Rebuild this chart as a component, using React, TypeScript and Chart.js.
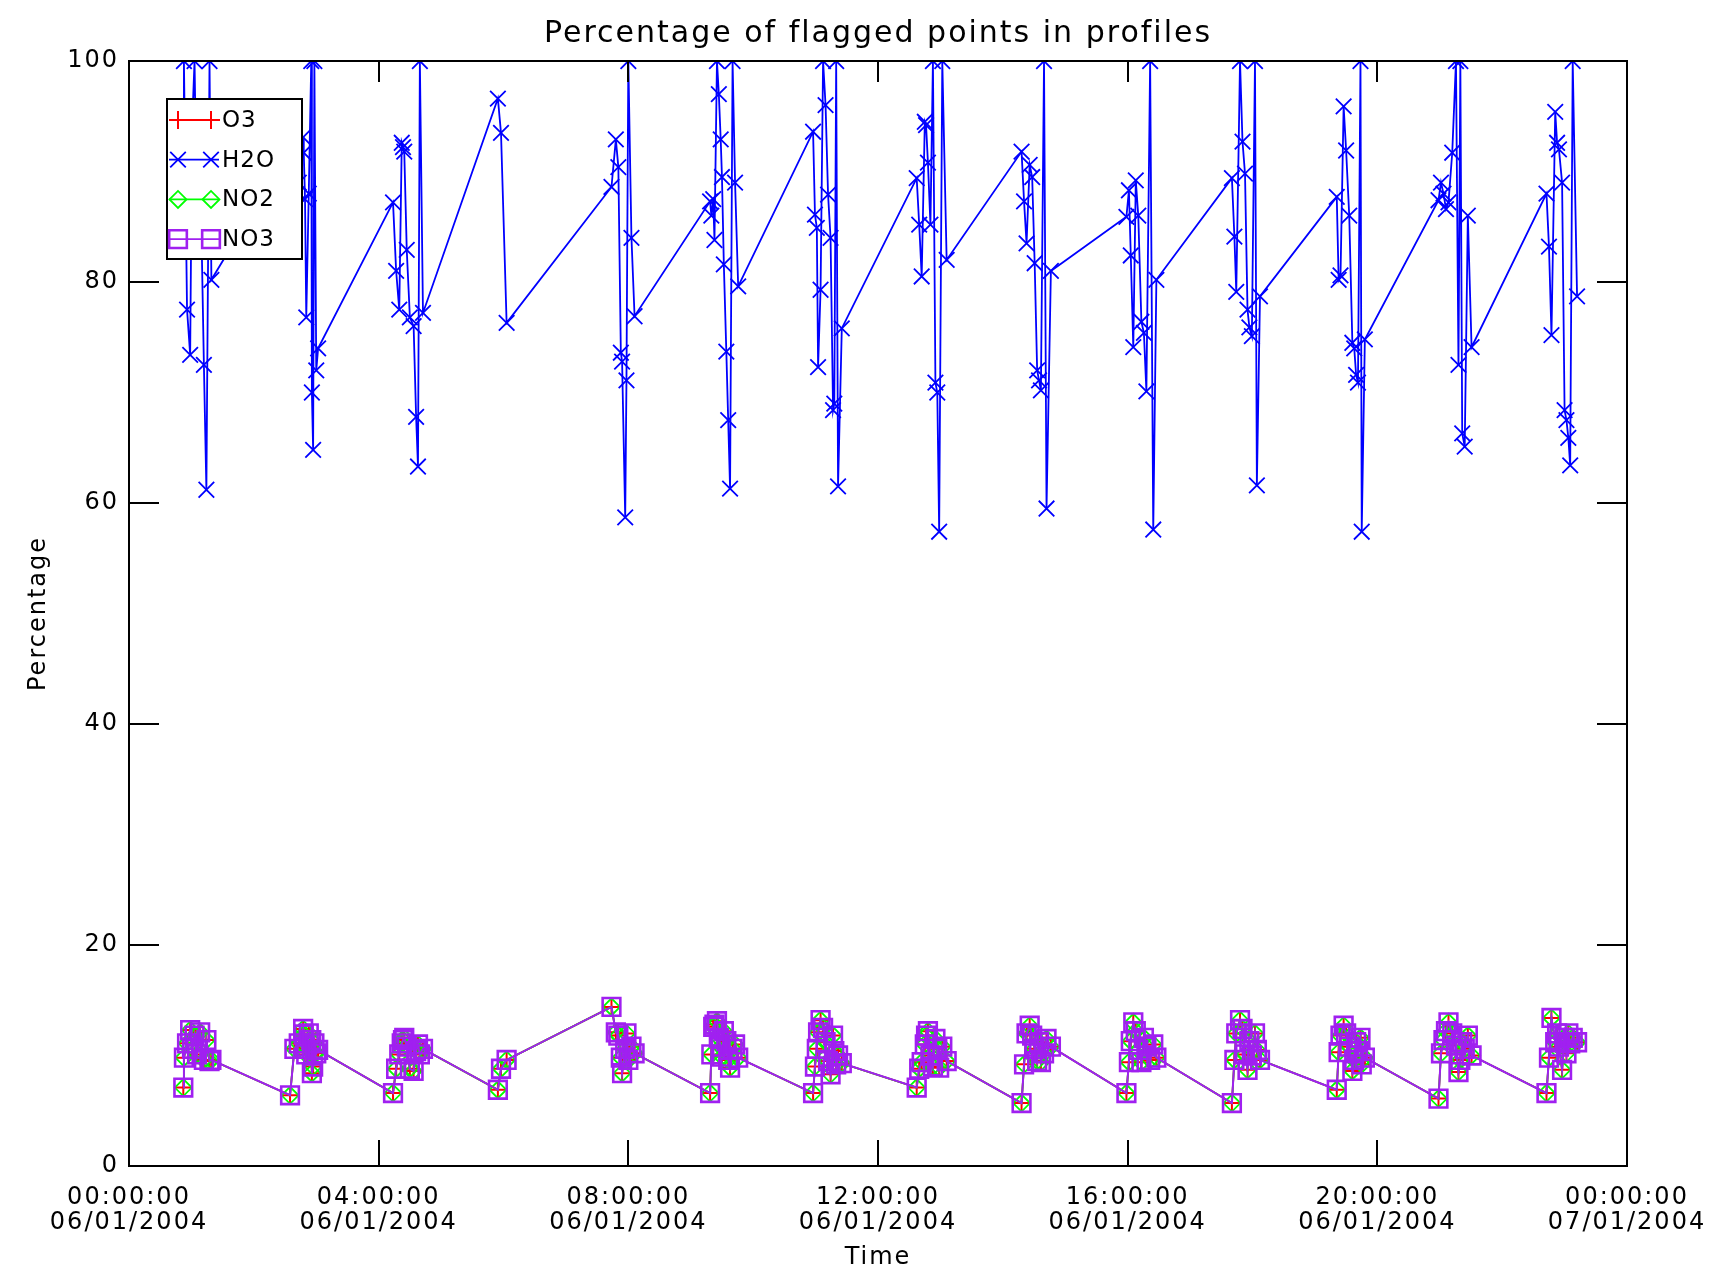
import { useEffect, useRef } from 'react';
import { Chart, registerables } from 'chart.js';

Chart.register(...registerables);

// Hours after 00:00:00 06/01/2004 of each profile
const profileTimes = [
  0.87, 0.88, 0.93, 0.98, 1.01, 1.05, 1.09, 1.14, 1.2, 1.24, 1.29, 1.32,
  2.58, 2.65, 2.72, 2.79, 2.8, 2.82, 2.84, 2.88, 2.92, 2.93, 2.95, 2.97, 3.0, 3.03,
  4.23, 4.28, 4.33, 4.37, 4.39, 4.41, 4.45, 4.5, 4.56, 4.6, 4.63, 4.66, 4.71,
  5.91, 5.96, 6.05,
  7.73, 7.8, 7.84, 7.88, 7.9, 7.95, 7.97, 8.0, 8.05, 8.1,
  9.31, 9.33, 9.36, 9.38, 9.42, 9.45, 9.48, 9.5, 9.53, 9.57, 9.6, 9.63, 9.67, 9.71, 9.76,
  10.96, 10.99, 11.02, 11.04, 11.08, 11.12, 11.16, 11.2, 11.24, 11.28, 11.3, 11.33, 11.36, 11.42,
  12.62, 12.66, 12.7, 12.75, 12.77, 12.8, 12.84, 12.88, 12.92, 12.95, 12.98, 13.03, 13.1,
  14.3, 14.34, 14.38, 14.43, 14.47, 14.51, 14.55, 14.58, 14.61, 14.66, 14.7, 14.77,
  15.98, 16.02, 16.05, 16.09, 16.13, 16.17, 16.22, 16.26, 16.3, 16.36, 16.41, 16.46,
  17.67, 17.71, 17.74, 17.8, 17.84, 17.88, 17.92, 17.95, 17.99, 18.04, 18.07, 18.12,
  19.35, 19.38, 19.41, 19.46, 19.5, 19.55, 19.6, 19.63, 19.66, 19.69, 19.73, 19.75, 19.8,
  20.98, 21.02, 21.06, 21.1, 21.14, 21.2, 21.26, 21.3, 21.33, 21.36, 21.4, 21.45, 21.51,
  22.71, 22.75, 22.79, 22.85, 22.88, 22.91, 22.96, 23.0, 23.03, 23.06, 23.09, 23.13, 23.2,
];

const h2oValues = [
  89, 100, 77.5, 73.4, 94, 100, 85, 91, 72.5, 61.2, 100, 80.2,
  92, 95, 89, 93.1, 91.7, 87.5, 76.8, 88, 100, 70, 64.8, 100, 72, 74,
  87.2, 81, 77.5, 92.6, 92.2, 91.8, 82.9, 76.8, 76, 67.8, 63.3, 100, 77.2,
  96.6, 93.5, 76.3,
  88.6, 92.9, 90.4, 73.6, 72.8, 58.7, 71.1, 100, 84, 76.9,
  87.3, 86, 87.5, 83.8, 100, 97, 92.9, 89.5, 81.6, 73.7, 67.5, 61.3, 100, 89, 79.6,
  93.6, 86.1, 84.9, 72.3, 79.3, 100, 96, 87.9, 84, 68.4, 69, 100, 61.5, 75.8,
  89.4, 85.2, 80.5, 94.5, 94.2, 90.8, 85.2, 100, 70.9, 70, 57.4, 100, 82,
  91.8, 87.3, 83.5, 90.6, 89.5, 81.7, 72, 71.1, 70.2, 100, 59.5, 81,
  85.9, 88.3, 82.4, 74.1, 89.2, 86, 76.4, 75.4, 70.1, 100, 57.6, 80.2,
  89.4, 84.1, 79.1, 100, 92.7, 89.8, 77.5, 75.9, 75.1, 100, 61.6, 78.7,
  87.7, 80.2, 80.6, 95.9, 91.9, 86, 74.5, 74, 71.6, 70.9, 100, 57.4, 74.8,
  87.4, 89, 88, 86.6, 87.2, 91.7, 100, 72.5, 100, 66.3, 65.1, 86, 74.1,
  88, 83.2, 75.2, 95.4, 92.6, 92, 89, 68.4, 67.5, 65.9, 63.4, 100, 78.7,
];

// O3, NO2 and NO3 share the same flagged percentages (their markers overlap)
const o3Values = [
  7.1, 9.8, 11.1, 12.3, 10.6, 11.8, 10.1, 12.1, 9.6, 11.4, 9.5, 9.6,
  6.4, 10.6, 11.1, 12.4, 11.9, 10.8, 10.1, 12.0, 11.4, 8.4, 9.0, 11.1, 10.2, 10.5,
  6.6, 8.8, 10.1, 11.1, 11.4, 11.6, 10.8, 8.8, 8.6, 10.4, 11.0, 10.1, 10.6,
  6.9, 8.8, 9.6,
  14.4, 12.1, 11.8, 9.8, 8.4, 10.6, 12.0, 9.6, 10.8, 10.2,
  6.6, 10.1, 12.6, 12.8, 13.1, 11.6, 10.8, 9.9, 12.2, 11.3, 9.6, 8.9, 10.6, 11.0, 9.8,
  6.6, 9.0, 10.6, 12.1, 13.2, 12.5, 11.2, 9.5, 8.3, 11.8, 10.4, 9.2, 10.0, 9.3,
  7.1, 8.8, 9.4, 11.0, 11.8, 12.2, 10.0, 9.0, 11.5, 10.6, 8.9, 10.8, 9.5,
  5.7, 9.2, 12.0, 12.7, 11.8, 10.6, 9.5, 11.2, 9.4, 10.2, 11.5, 10.8,
  6.6, 9.4, 11.3, 13.0, 12.2, 10.5, 9.4, 11.6, 10.8, 9.6, 11.0, 9.8,
  5.7, 9.6, 12.0, 13.2, 12.4, 10.1, 8.7, 11.3, 10.0, 12.0, 10.5, 9.6,
  6.9, 10.3, 11.8, 12.7, 12.0, 10.8, 8.6, 9.6, 11.2, 10.4, 11.6, 9.2, 9.8,
  6.1, 10.2, 11.4, 12.2, 13.0, 12.0, 10.9, 8.5, 9.6, 11.2, 10.6, 11.8, 10.0,
  6.6, 9.8, 13.4, 11.2, 12.0, 10.8, 8.7, 11.6, 10.2, 12.0, 11.1, 11.6, 11.2,
];
const no2Values = o3Values.slice();
const no3Values = o3Values.slice();

const seriesNames = ['O3', 'H2O', 'NO2', 'NO3'];
const xTickTimes = ['00:00:00', '04:00:00', '08:00:00', '12:00:00', '16:00:00', '20:00:00', '00:00:00'];
const xTickDates = ['06/01/2004', '06/01/2004', '06/01/2004', '06/01/2004', '06/01/2004', '06/01/2004', '07/01/2004'];
const chartTitle = 'Percentage of flagged points in profiles';
const xAxisTitle = 'Time';
const yAxisTitle = 'Percentage';

const FONT = '"DejaVu Sans", sans-serif';

function drawMark(ctx: CanvasRenderingContext2D, style: string, x: number, y: number, r: number) {
  ctx.beginPath();
  if (style === 'cross') {
    ctx.moveTo(x, y - r); ctx.lineTo(x, y + r);
    ctx.moveTo(x - r, y); ctx.lineTo(x + r, y);
  } else if (style === 'crossRot') {
    const d = r * Math.SQRT1_2;
    ctx.moveTo(x - d, y - d); ctx.lineTo(x + d, y + d);
    ctx.moveTo(x - d, y + d); ctx.lineTo(x + d, y - d);
  } else if (style === 'rectRot') {
    ctx.moveTo(x - r, y); ctx.lineTo(x, y - r); ctx.lineTo(x + r, y); ctx.lineTo(x, y + r); ctx.closePath();
  } else {
    const s = r * Math.SQRT1_2;
    ctx.rect(x - s, y - s, 2 * s, 2 * s);
  }
  ctx.stroke();
}

const idlFrame = {
  id: 'idlFrame',
  beforeDraw(chart: any) {
    chart.ctx.letterSpacing = '2px';
  },
  afterDatasetsDraw(chart: any) {
    const { ctx, chartArea: a, scales } = chart;
    const xs = scales.x;
    const ys = scales.y;
    ctx.save();
    ctx.letterSpacing = '0px';
    ctx.strokeStyle = '#000';
    ctx.lineWidth = 2;
    ctx.strokeRect(a.left, a.top, a.right - a.left, a.bottom - a.top);
    ctx.beginPath();
    xs.ticks.forEach((t: any) => {
      const px = Math.round(xs.getPixelForValue(t.value));
      ctx.moveTo(px, a.bottom); ctx.lineTo(px, a.bottom - 26);
      ctx.moveTo(px, a.top); ctx.lineTo(px, a.top + 21);
    });
    ys.ticks.forEach((t: any) => {
      const py = Math.round(ys.getPixelForValue(t.value));
      ctx.moveTo(a.left, py); ctx.lineTo(a.left + 30, py);
      ctx.moveTo(a.right, py); ctx.lineTo(a.right - 30, py);
    });
    ctx.stroke();

    // title
    ctx.fillStyle = '#000';
    ctx.font = `30px ${FONT}`;
    ctx.letterSpacing = '2px';
    ctx.textAlign = 'center';
    ctx.textBaseline = 'middle';
    ctx.fillText(chartTitle, (a.left + a.right) / 2, 34);

    // legend inside the plot
    const bx = a.left + 38, by = a.top + 38, bw = 135, bh = 160;
    ctx.fillStyle = '#fff';
    ctx.fillRect(bx, by, bw, bh);
    ctx.lineWidth = 2;
    ctx.strokeStyle = '#000';
    ctx.strokeRect(bx, by, bw, bh);
    ctx.font = `23px ${FONT}`;
    ctx.letterSpacing = '1px';
    ctx.textAlign = 'left';
    chart.data.datasets.forEach((ds: any, i: number) => {
      const ry = by + 21 + i * 39.7;
      ctx.strokeStyle = ds.borderColor;
      ctx.lineWidth = 1.8;
      ctx.beginPath();
      ctx.moveTo(bx + 2, ry); ctx.lineTo(bx + 52, ry);
      ctx.stroke();
      ctx.lineWidth = ds.pointBorderWidth;
      drawMark(ctx, ds.pointStyle, bx + 11, ry, ds.pointRadius);
      drawMark(ctx, ds.pointStyle, bx + 44, ry, ds.pointRadius);
      ctx.fillStyle = '#000';
      ctx.fillText(ds.label, bx + 55, ry + 1);
    });
    ctx.restore();
  },
};

export default function App() {
  const ref = useRef<HTMLCanvasElement>(null);
  useEffect(() => {
    const canvas = ref.current;
    if (!canvas) return;
    const toPoints = (vals: number[]) => profileTimes.map((t, i) => ({ x: t, y: vals[i] }));
    const mk = (label: string, vals: number[], color: string, style: string, radius: number, order: number, lw: number, pw: number) => ({
      label,
      data: toPoints(vals),
      borderColor: color,
      backgroundColor: color,
      borderWidth: lw,
      pointStyle: style,
      pointRadius: radius,
      pointBorderColor: color,
      pointBackgroundColor: 'rgba(0,0,0,0)',
      pointBorderWidth: pw,
      tension: 0,
      order,
    });
    const chart = new Chart(canvas, {
      type: 'line',
      data: {
        datasets: [
          mk(seriesNames[0], o3Values, '#ff0000', 'cross', 9, 3, 1.8, 2),
          mk(seriesNames[1], h2oValues, '#0000ff', 'crossRot', 11, 0, 1.8, 1.8),
          mk(seriesNames[2], no2Values, '#00ff00', 'rectRot', 8.5, 2, 1.8, 1.8),
          mk(seriesNames[3], no3Values, '#a020f0', 'rect', 12.5, 1, 2, 2.6),
        ] as any,
      },
      options: {
        animation: false,
        responsive: false,
        devicePixelRatio: 1,
        events: [],
        layout: { padding: { top: 61, right: 104, bottom: 0, left: 0 } },
        plugins: {
          legend: { display: false },
          title: { display: false },
          tooltip: { enabled: false },
        },
        scales: {
          x: {
            type: 'linear',
            min: 0,
            max: 24,
            grid: { display: false, drawTicks: false },
            border: { display: false },
            ticks: {
              stepSize: 4,
              autoSkip: false,
              maxRotation: 0,
              padding: 19,
              color: '#000',
              font: { family: FONT, size: 24, lineHeight: 1.04 },
              callback: (_v: any, i: number) => [xTickTimes[i], xTickDates[i]],
            },
            title: {
              display: true,
              text: xAxisTitle,
              color: '#000',
              font: { family: FONT, size: 24 },
              padding: { top: 0, bottom: 9 },
            },
            afterFit: (s: any) => { s.height = 115; },
          },
          y: {
            type: 'linear',
            min: 0,
            max: 100,
            grid: { display: false, drawTicks: false },
            border: { display: false },
            ticks: {
              stepSize: 20,
              padding: 10,
              color: '#000',
              font: { family: FONT, size: 24 },
            },
            title: {
              display: true,
              text: yAxisTitle,
              color: '#000',
              font: { family: FONT, size: 24 },
              padding: { top: 24, bottom: 0 },
            },
            afterFit: (s: any) => { s.width = 129; },
          },
        },
      } as any,
      plugins: [idlFrame as any],
    });
    return () => chart.destroy();
  }, []);
  return (
    <div style={{ position: 'fixed', left: 0, top: 0, width: 1731, height: 1281, background: '#fff' }}>
      <canvas ref={ref} width={1731} height={1281} style={{ display: 'block' }} />
    </div>
  );
}
